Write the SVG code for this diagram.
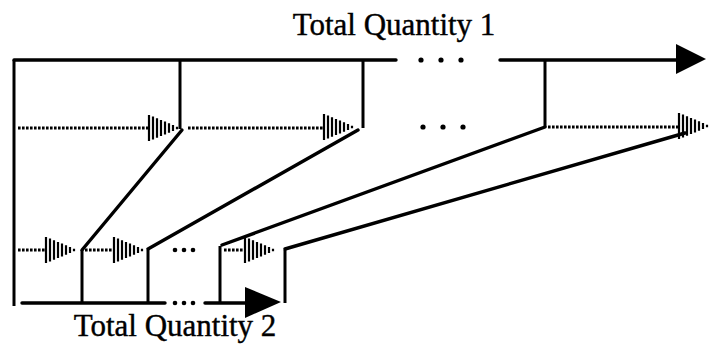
<svg xmlns="http://www.w3.org/2000/svg" width="709" height="349" viewBox="0 0 709 349">
<style>
.solid{stroke:#000;stroke-width:3.4;fill:none;stroke-linecap:round}
.vert{stroke:#000;stroke-width:3;fill:none}
.dot{stroke:#000;stroke-width:3;fill:none;stroke-dasharray:2.6 1.4}
.diag{stroke:#000;stroke-width:3.4;fill:none;stroke-linecap:round}
.lbl{font-family:"Liberation Serif","Times New Roman",serif;font-size:31px;fill:#000;stroke:#000;stroke-width:0.4}
.ell{fill:#000}
</style>
<defs>
<g id="hatch">
<path d="M1,-13V13M5,-11.4V11.4M9,-9.7V9.7M13,-8V8M17,-6.4V6.4M21,-4.7V4.7M25,-3V3M29,-1.3V1.3" stroke="#000" stroke-width="2.2"/>
</g>
</defs>
<g id="labels">
<text class="lbl" x="394" y="35" text-anchor="middle">Total Quantity 1</text>
<text class="lbl" x="175" y="336" text-anchor="middle">Total Quantity 2</text>
</g>
<g id="frame">
<line class="solid" x1="14" y1="60" x2="396" y2="60"/>
<line class="solid" x1="500" y1="60" x2="680" y2="60"/>
<polygon points="676,44 706,59 676,74" fill="#000"/>
<circle class="ell" cx="421" cy="60" r="2.6"/>
<circle class="ell" cx="441" cy="60" r="2.6"/>
<circle class="ell" cx="461" cy="60" r="2.6"/>
<line class="vert" x1="14" y1="60" x2="14" y2="306"/>
<line class="vert" x1="180" y1="60" x2="180" y2="129"/>
<line class="vert" x1="363" y1="60" x2="363" y2="128"/>
<line class="vert" x1="545" y1="60" x2="545" y2="127"/>
<line class="solid" x1="22" y1="303" x2="165" y2="303"/>
<line class="solid" x1="205" y1="303" x2="250" y2="303"/>
<polygon points="245,287 281,302 245,318" fill="#000"/>
<circle class="ell" cx="175" cy="303" r="2.3"/>
<circle class="ell" cx="184" cy="303" r="2.3"/>
<circle class="ell" cx="193" cy="303" r="2.3"/>
</g>
<g id="row1">
<line class="dot" x1="18" y1="128" x2="148" y2="128"/>
<use href="#hatch" x="148" y="128"/>
<line class="dot" x1="188" y1="128" x2="323" y2="128"/>
<use href="#hatch" x="323" y="127"/>
<circle class="ell" cx="423" cy="127" r="2.6"/>
<circle class="ell" cx="443" cy="127" r="2.6"/>
<circle class="ell" cx="463" cy="127" r="2.6"/>
<line class="dot" x1="548" y1="127" x2="678" y2="127"/>
<use href="#hatch" x="678" y="126"/>
</g>
<g id="row2">
<line class="dot" x1="18" y1="250" x2="45" y2="250"/>
<use href="#hatch" x="45" y="250"/>
<line class="vert" x1="82" y1="250" x2="82" y2="303"/>
<line class="dot" x1="85" y1="250" x2="113" y2="250"/>
<use href="#hatch" x="113" y="250"/>
<line class="vert" x1="148" y1="250" x2="148" y2="303"/>
<circle class="ell" cx="175" cy="250" r="2.3"/>
<circle class="ell" cx="184" cy="250" r="2.3"/>
<circle class="ell" cx="193" cy="250" r="2.3"/>
<line class="vert" x1="220" y1="246" x2="220" y2="303"/>
<line class="dot" x1="224" y1="250" x2="244" y2="250"/>
<use href="#hatch" x="244" y="250"/>
<line class="vert" x1="285" y1="250" x2="285" y2="303"/>
</g>
<g id="connectors">
<line class="diag" x1="182" y1="130" x2="82" y2="250"/>
<line class="diag" x1="358" y1="130" x2="148" y2="249"/>
<line class="diag" x1="545" y1="127" x2="222" y2="245"/>
<line class="diag" x1="685" y1="133" x2="285" y2="249"/>
</g>
</svg>
